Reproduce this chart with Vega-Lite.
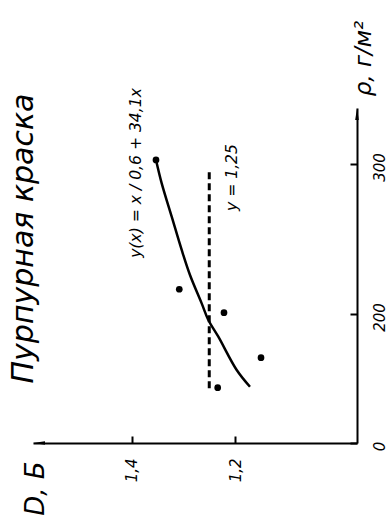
{
  "$schema": "https://vega.github.io/schema/vega-lite/v6.json",
  "width": 324,
  "height": 335,
  "autosize": "none",
  "padding": {"left": 33, "top": 108, "right": 31, "bottom": 76},
  "background": "white",
  "title": {
    "text": "Пурпурная краска",
    "orient": "left",
    "anchor": "middle",
    "frame": "group",
    "offset": -41,
    "dx": 37,
    "font": "DejaVu Sans",
    "fontStyle": "italic",
    "fontWeight": "normal",
    "fontSize": 30,
    "color": "black",
    "baseline": "alphabetic"
  },
  "config": {
    "view": {"stroke": null},
    "axis": {
      "grid": false,
      "domainColor": "black",
      "domainWidth": 2,
      "tickColor": "black",
      "tickWidth": 2,
      "labelFont": "DejaVu Sans",
      "labelFontStyle": "italic",
      "labelFontSize": 15,
      "labelColor": "black",
      "labelFlush": false,
      "labelOverlap": false
    }
  },
  "datasets": {
    "points": [
      {"D": 1.3534, "rho": 302.7},
      {"D": 1.3082, "rho": 216.5},
      {"D": 1.2214, "rho": 200.9},
      {"D": 1.1495, "rho": 170.9},
      {"D": 1.2336, "rho": 150.9}
    ],
    "fit": [
      {"D": 1.3534, "rho": 302.7},
      {"D": 1.3423, "rho": 287.1},
      {"D": 1.3229, "rho": 264.9},
      {"D": 1.3035, "rho": 242.7},
      {"D": 1.2874, "rho": 226.0},
      {"D": 1.2647, "rho": 207.1},
      {"D": 1.2518, "rho": 196.0},
      {"D": 1.2324, "rho": 184.9},
      {"D": 1.1967, "rho": 162.7},
      {"D": 1.1709, "rho": 151.5}
    ],
    "mean": [{"D": 1.25, "rho": 150.5, "rho2": 297.1}],
    "notes": [
      {"label": "y(x) = x / 0,6 + 34,1x", "D": 1.3917, "rho": 294},
      {"label": "y = 1,25", "D": 1.2054, "rho": 291}
    ],
    "arrowY": [{"D": 0.96311, "rho": 333.33}],
    "arrowX": [{"D": 1.58058, "rho": 114}]
  },
  "encoding": {
    "x": {
      "field": "D",
      "type": "quantitative",
      "scale": {"domain": [0.96311, 1.59223], "reverse": true, "nice": false, "zero": false},
      "axis": {
        "orient": "bottom",
        "values": [1.2, 1.4],
        "tickSize": -7,
        "labelPadding": 22,
        "labelAngle": 270,
        "labelAlign": "right",
        "labelBaseline": "middle",
        "labelExpr": "replace(format(datum.value, '.1f'), '.', ',')",
        "title": "D, Б",
        "titleAngle": 270,
        "titleX": 2,
        "titleY": 45,
        "titleAlign": "center",
        "titleBaseline": "middle",
        "titleFont": "DejaVu Sans",
        "titleFontStyle": "italic",
        "titleFontWeight": "normal",
        "titleFontSize": 26,
        "titleColor": "black"
      }
    },
    "y": {
      "field": "rho",
      "type": "quantitative",
      "scale": {"domain": [114, 337.33], "nice": false, "zero": false},
      "axis": {
        "orient": "right",
        "values": [114, 200, 300],
        "tickSize": -7,
        "labelPadding": 22,
        "labelAngle": 270,
        "labelAlign": "center",
        "labelBaseline": "top",
        "labelOffset": 3,
        "labelExpr": "datum.value < 150 ? '0' : datum.label",
        "title": "ρ, г/м²",
        "titleAngle": 270,
        "titleX": 6,
        "titleY": -50,
        "titleAlign": "center",
        "titleBaseline": "middle",
        "titleFont": "DejaVu Sans",
        "titleFontStyle": "italic",
        "titleFontWeight": "normal",
        "titleFontSize": 23,
        "titleColor": "black"
      }
    }
  },
  "layer": [
    {
      "data": {"name": "mean"},
      "mark": {"type": "rule", "strokeDash": [7, 4], "strokeWidth": 3, "color": "black"},
      "encoding": {"y2": {"field": "rho2"}}
    },
    {
      "data": {"name": "fit"},
      "mark": {"type": "line", "interpolate": "catmull-rom", "strokeWidth": 2.5, "color": "black"},
      "encoding": {"order": {"field": "rho", "type": "quantitative"}}
    },
    {
      "data": {"name": "points"},
      "mark": {"type": "point", "filled": true, "size": 45, "color": "black", "opacity": 1}
    },
    {
      "data": {"name": "notes"},
      "mark": {"type": "text", "angle": 270, "align": "center", "baseline": "middle", "font": "DejaVu Sans", "fontStyle": "italic", "fontSize": 15.6, "color": "black"},
      "encoding": {"text": {"field": "label"}}
    },
    {
      "data": {"name": "arrowY"},
      "mark": {"type": "point", "shape": "M0,-1L0.3,1L-0.3,1Z", "size": 144, "filled": true, "color": "black", "opacity": 1}
    },
    {
      "data": {"name": "arrowX"},
      "mark": {"type": "point", "shape": "M-1,0L1,-0.3L1,0.3Z", "size": 144, "filled": true, "color": "black", "opacity": 1}
    }
  ]
}
